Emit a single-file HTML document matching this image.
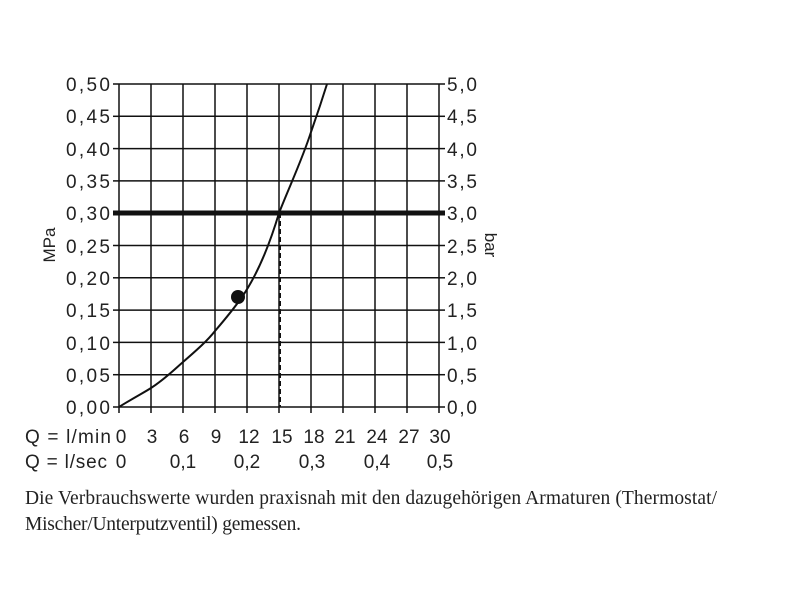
<!DOCTYPE html>
<html><head><style>body{margin:0;background:#fff;}</style></head><body>
<svg width="800" height="600" xmlns="http://www.w3.org/2000/svg" font-family="Liberation Sans, sans-serif">
<rect width="800" height="600" fill="#fff"/>
<g stroke="#111" stroke-width="1.5">
<line x1="119" y1="84" x2="439" y2="84"/><line x1="119" y1="116.3" x2="439" y2="116.3"/><line x1="119" y1="148.6" x2="439" y2="148.6"/><line x1="119" y1="180.9" x2="439" y2="180.9"/><line x1="119" y1="245.5" x2="439" y2="245.5"/><line x1="119" y1="277.8" x2="439" y2="277.8"/><line x1="119" y1="310.1" x2="439" y2="310.1"/><line x1="119" y1="342.4" x2="439" y2="342.4"/><line x1="119" y1="374.7" x2="439" y2="374.7"/><line x1="113" y1="407" x2="445" y2="407"/>
<line x1="119" y1="84" x2="119" y2="413"/><line x1="151" y1="84" x2="151" y2="413"/><line x1="183" y1="84" x2="183" y2="413"/><line x1="215" y1="84" x2="215" y2="413"/><line x1="247" y1="84" x2="247" y2="413"/><line x1="279" y1="84" x2="279" y2="413"/><line x1="311" y1="84" x2="311" y2="413"/><line x1="343" y1="84" x2="343" y2="413"/><line x1="375" y1="84" x2="375" y2="413"/><line x1="407" y1="84" x2="407" y2="413"/><line x1="439" y1="84" x2="439" y2="413"/>
<line x1="113" y1="84" x2="119" y2="84"/><line x1="113" y1="116.3" x2="119" y2="116.3"/><line x1="113" y1="148.6" x2="119" y2="148.6"/><line x1="113" y1="180.9" x2="119" y2="180.9"/><line x1="113" y1="245.5" x2="119" y2="245.5"/><line x1="113" y1="277.8" x2="119" y2="277.8"/><line x1="113" y1="310.1" x2="119" y2="310.1"/><line x1="113" y1="342.4" x2="119" y2="342.4"/><line x1="113" y1="374.7" x2="119" y2="374.7"/>
<line x1="439" y1="84" x2="445" y2="84"/><line x1="439" y1="116.3" x2="445" y2="116.3"/><line x1="439" y1="148.6" x2="445" y2="148.6"/><line x1="439" y1="180.9" x2="445" y2="180.9"/><line x1="439" y1="245.5" x2="445" y2="245.5"/><line x1="439" y1="277.8" x2="445" y2="277.8"/><line x1="439" y1="310.1" x2="445" y2="310.1"/><line x1="439" y1="342.4" x2="445" y2="342.4"/><line x1="439" y1="374.7" x2="445" y2="374.7"/>
</g>
<line x1="113" y1="213" x2="445" y2="213" stroke="#111" stroke-width="5"/>
<line x1="280" y1="213" x2="280" y2="407" stroke="#111" stroke-width="2" stroke-dasharray="5,3"/>
<path d="M119,407 C135,397 145,392 151,388 C165,379 175,369 183,362 C198,349 208,340 215,331 C227,317 235,307 242,297 C255,278 268,250 279,213 C290,185 302,160 311,132 C317,115 322,100 327,84" fill="none" stroke="#111" stroke-width="2"/>
<circle cx="238" cy="297" r="7" fill="#111"/>
<g font-size="19" fill="#222">
<text x="66" y="91" textLength="44">0,50</text><text x="66" y="123" textLength="44">0,45</text><text x="66" y="156" textLength="44">0,40</text><text x="66" y="188" textLength="44">0,35</text><text x="66" y="220" textLength="44">0,30</text><text x="66" y="253" textLength="44">0,25</text><text x="66" y="285" textLength="44">0,20</text><text x="66" y="317" textLength="44">0,15</text><text x="66" y="350" textLength="44">0,10</text><text x="66" y="382" textLength="44">0,05</text><text x="66" y="414" textLength="44">0,00</text>
<text x="447" y="91" textLength="30">5,0</text><text x="447" y="123" textLength="30">4,5</text><text x="447" y="156" textLength="30">4,0</text><text x="447" y="188" textLength="30">3,5</text><text x="447" y="220" textLength="30">3,0</text><text x="447" y="253" textLength="30">2,5</text><text x="447" y="285" textLength="30">2,0</text><text x="447" y="317" textLength="30">1,5</text><text x="447" y="350" textLength="30">1,0</text><text x="447" y="382" textLength="30">0,5</text><text x="447" y="414" textLength="30">0,0</text>
</g>
<text transform="translate(55,245) rotate(-90)" font-size="17" fill="#222" text-anchor="middle">MPa</text>
<text transform="translate(485,245) rotate(90)" font-size="17" fill="#222" text-anchor="middle">bar</text>
<g font-size="19" fill="#222" text-anchor="middle">
<text x="121" y="443">0</text><text x="152" y="443">3</text><text x="184" y="443">6</text><text x="216" y="443">9</text><text x="249" y="443">12</text><text x="282" y="443">15</text><text x="314" y="443">18</text><text x="345" y="443">21</text><text x="377" y="443">24</text><text x="409" y="443">27</text><text x="440" y="443">30</text>
<text x="121" y="468">0</text><text x="183" y="468">0,1</text><text x="247" y="468">0,2</text><text x="312" y="468">0,3</text><text x="377" y="468">0,4</text><text x="440" y="468">0,5</text>
</g>
<g font-size="19" fill="#222">
<text x="25" y="443" textLength="86">Q = l/min</text><text x="25" y="468" textLength="82">Q = l/sec</text>
</g>
<g font-family="Liberation Serif, serif" font-size="19.5" fill="#222">
<text x="25" y="504" textLength="692">Die Verbrauchswerte wurden praxisnah mit den dazugehörigen Armaturen (Thermostat/</text>
<text x="25" y="530" textLength="276">Mischer/Unterputzventil) gemessen.</text>
</g>
</svg>
</body></html>
